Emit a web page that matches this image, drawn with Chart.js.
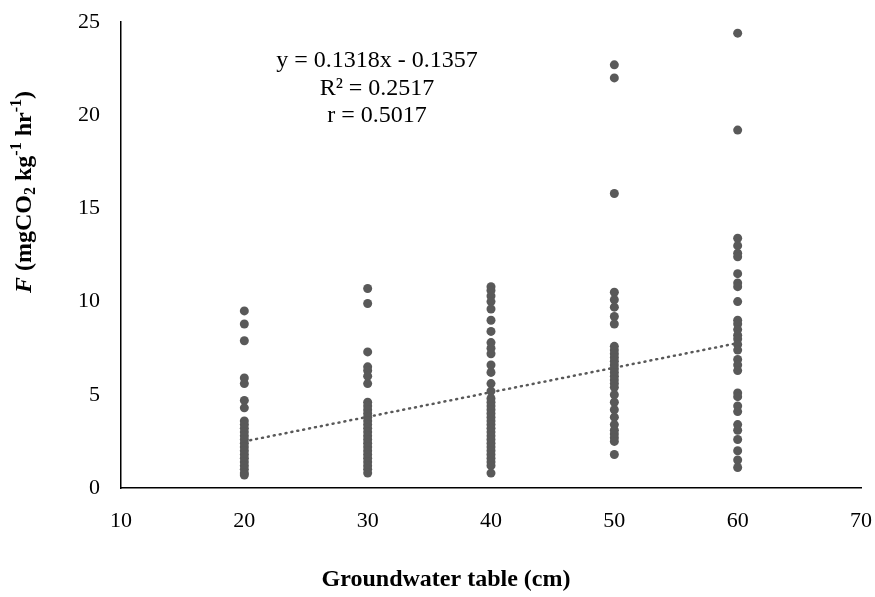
<!DOCTYPE html>
<html>
<head>
<meta charset="utf-8">
<script src="https://cdn.jsdelivr.net/npm/chart.js@4/dist/chart.umd.min.js"></script>
<style>
  html, body { margin: 0; padding: 0; background: #fff; }
  #wrap { width: 875px; height: 597px; }
</style>
</head>
<body>
<div id="wrap"><canvas id="myChart"></canvas></div>
<script>
// groundwater table depths (cm) and measured flux at each depth
const depth20 = [9.5, 8.8, 7.9, 5.9, 5.6, 4.7, 4.3, 3.6, 3.4, 3.2, 3.0, 2.8, 2.6, 2.4, 2.2, 2.0, 1.8, 1.6, 1.4, 1.2, 1.0, 0.8, 0.7];
const depth30 = [10.7, 9.9, 7.3, 6.5, 6.3, 6.0, 5.6, 4.6, 4.4, 4.2, 4.0, 3.8, 3.6, 3.4, 3.2, 3.0, 2.8, 2.6, 2.4, 2.2, 2.0, 1.8, 1.6, 1.4, 1.2, 1.0, 0.8];
const depth40 = [10.8, 10.6, 10.3, 10.0, 9.6, 9.0, 8.4, 7.8, 7.5, 7.2, 6.6, 6.2, 5.6, 5.2, 4.8, 4.6, 4.4, 4.2, 4.0, 3.8, 3.6, 3.4, 3.2, 3.0, 2.8, 2.6, 2.4, 2.2, 2.0, 1.8, 1.6, 1.4, 1.2, 0.8];
const depth50 = [22.7, 22.0, 15.8, 10.5, 10.1, 9.7, 9.2, 8.8, 7.6, 7.4, 7.2, 7.0, 6.8, 6.6, 6.4, 6.2, 6.0, 5.8, 5.6, 5.4, 5.0, 4.6, 4.2, 3.8, 3.4, 3.1, 2.9, 2.7, 2.5, 1.8];
const depth60 = [24.4, 19.2, 13.4, 13.0, 12.6, 12.4, 11.5, 11.0, 10.8, 10.0, 9.0, 8.8, 8.5, 8.2, 8.0, 7.7, 7.4, 6.9, 6.6, 6.3, 5.1, 4.9, 4.4, 4.1, 3.4, 3.1, 2.6, 2.0, 1.5, 1.1];

// linear fit y = 0.1318x - 0.1357
const slope = 0.1318;
const intercept = -0.1357;
const fitX = [20, 60];
const eqLines = ['y = 0.1318x - 0.1357', 'R² = 0.2517', 'r = 0.5017'];

const xTicks = [10, 20, 30, 40, 50, 60, 70];
const yTicks = [0, 5, 10, 15, 20, 25];
const xTitle = 'Groundwater table (cm)';

const points = [];
[[20, depth20], [30, depth30], [40, depth40], [50, depth50], [60, depth60]].forEach(([d, vals]) => {
    vals.forEach(v => points.push({ x: d, y: v }));
});
const fitLine = fitX.map(x => ({ x: x, y: slope * x + intercept }));

const SERIF = '"Liberation Serif", "Times New Roman", serif';

// draws the equation text, the x title and the rotated y title with sub/superscripts
const textPlugin = {
    id: 'textPlugin',
    afterDraw(chart) {
        const ctx = chart.ctx;
        ctx.save();
        ctx.fillStyle = '#000';
        ctx.font = '24px ' + SERIF;
        ctx.textAlign = 'center';
        ctx.textBaseline = 'middle';
        eqLines.forEach((t, i) => ctx.fillText(t, 377, 61 + i * 27.5));

        ctx.font = 'bold 24px ' + SERIF;
        ctx.fillText(xTitle, 446, 580);

        // y axis title
        const parts = [
            { t: 'F', f: 'italic bold 24px ', dy: 0 },
            { t: ' (mgCO', f: 'bold 24px ', dy: 0 },
            { t: '2', f: 'bold 16px ', dy: 6 },
            { t: ' kg', f: 'bold 24px ', dy: 0 },
            { t: '-1', f: 'bold 16px ', dy: -8 },
            { t: ' hr', f: 'bold 24px ', dy: 0 },
            { t: '-1', f: 'bold 16px ', dy: -8 },
            { t: ')', f: 'bold 24px ', dy: 0 }
        ];
        let total = 0;
        parts.forEach(p => { ctx.font = p.f + SERIF; p.w = ctx.measureText(p.t).width; total += p.w; });
        ctx.translate(25, 192);
        ctx.rotate(-Math.PI / 2);
        ctx.textAlign = 'left';
        let x = -total / 2;
        parts.forEach(p => {
            ctx.font = p.f + SERIF;
            ctx.fillText(p.t, x, p.dy);
            x += p.w;
        });
        ctx.restore();
    }
};

new Chart(document.getElementById('myChart'), {
    type: 'scatter',
    data: {
        datasets: [
            {
                label: 'F',
                data: points,
                backgroundColor: '#595959',
                borderColor: '#595959',
                pointRadius: 4.5,
                pointHoverRadius: 4.5,
                borderWidth: 0
            },
            {
                label: 'trend',
                type: 'line',
                data: fitLine,
                borderColor: '#595959',
                borderWidth: 2.5,
                borderDash: [1, 5],
                borderCapStyle: 'round',
                pointRadius: 0,
                fill: false
            }
        ]
    },
    options: {
        responsive: true,
        maintainAspectRatio: false,
        animation: false,
        layout: { padding: { top: 22, right: 14, left: 0, bottom: 0 } },
        plugins: {
            legend: { display: false },
            tooltip: { enabled: false }
        },
        scales: {
            x: {
                type: 'linear',
                min: 10,
                max: 70,
                afterBuildTicks: s => { s.ticks = xTicks.map(v => ({ value: v })); },
                afterFit: s => { s.height = 109; s.paddingLeft = 0; s.paddingRight = 0; },
                grid: { display: false, drawTicks: false },
                border: { display: true, color: '#000', width: 1.5 },
                ticks: { color: '#000', font: { family: SERIF, size: 22 }, padding: 20 }
            },
            y: {
                type: 'linear',
                min: 0,
                max: 25,
                afterBuildTicks: s => { s.ticks = yTicks.map(v => ({ value: v })); },
                afterFit: s => { s.width = 121; s.paddingTop = 0; s.paddingBottom = 0; },
                grid: { display: false, drawTicks: false },
                border: { display: true, color: '#000', width: 1.5 },
                ticks: { color: '#000', font: { family: SERIF, size: 22 }, padding: 21 }
            }
        }
    },
    plugins: [textPlugin]
});
</script>
</body>
</html>
